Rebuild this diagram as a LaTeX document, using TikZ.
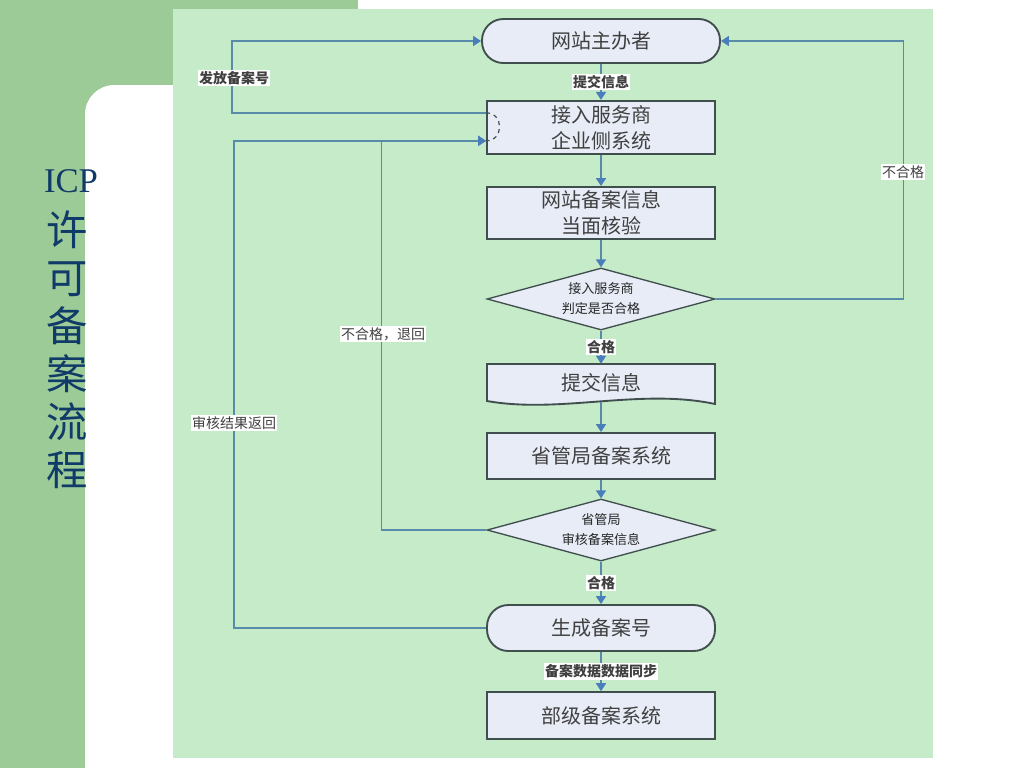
\documentclass[tikz,border=0pt]{standalone}
\usepackage{fontspec}
\setmainfont{Noto Sans CJK SC}
\newfontfamily\timesfont{Liberation Serif}
\usetikzlibrary{arrows.meta,shapes.geometric}
\definecolor{bandgreen}{RGB}{156,203,152}
\definecolor{panelgreen}{RGB}{198,235,201}
\definecolor{boxfill}{RGB}{231,236,246}
\definecolor{boxline}{RGB}{64,78,78}
\definecolor{flowline}{RGB}{88,138,170}
\definecolor{tipblue}{RGB}{74,126,187}
\definecolor{titleblue}{RGB}{16,58,104}

\begin{document}
\begin{tikzpicture}[x=0.75pt,y=-0.75pt,
	box/.style={draw=boxline,fill=boxfill,line width=1.4pt,minimum width=171pt,inner sep=0pt,align=center,text=black!75,font=\fontsize{15}{19.5}\selectfont},
	term/.style={box,rounded corners=16pt},
	decide/.style={diamond,aspect=3.7,draw=boxline,fill=boxfill,line width=1pt,minimum width=171pt,minimum height=46.5pt,inner sep=0pt,align=center,text=black!85,font=\fontsize{9.8}{15}\selectfont},
	flow/.style={draw=flowline,line width=1.2pt,-{Triangle[length=6pt,width=7.5pt,color=tipblue]}},
	tag/.style={fill=white,inner sep=1pt,text=black!75,font=\fontsize{10.5}{12}\selectfont},
	boldtag/.style={tag,font=\fontsize{10.5}{12}\selectfont\bfseries}]
	\useasboundingbox (0,0) rectangle (1024,768);

	% page background
	\fill[white] (0,0) rectangle (1024,768);
	\fill[bandgreen] (0,0) rectangle (358,768);
	\fill[white,rounded corners=22pt] (85,85) rectangle (358,800);
	\fill[panelgreen] (173,9) rectangle (933,758);

	% title
	\node[text=titleblue,font=\timesfont\fontsize{26}{28}\selectfont,inner sep=0pt] (icp) at (71,181) {ICP};
	\node[text=titleblue,font=\fontsize{31}{36}\selectfont,align=center,anchor=north,inner sep=0pt] (biaoti) at (67,211) {许\\可\\备\\案\\流\\程};

	% flow chart
	\node[term,minimum width=178.5pt,minimum height=33pt] (zhuban) at (601,41) {网站主办者};
	\node[box,minimum height=40pt] (jieru) at (601,127.5) {接入服务商\\企业侧系统};
	\node[box,minimum height=39pt] (hedui) at (601,213) {网站备案信息\\当面核验};
	\node[decide] (panding) at (601,299) {接入服务商\\判定是否合格};
	\filldraw[draw=boxline,fill=boxfill,line width=1.4pt] (487,364) -- (715,364) -- (715,404) .. controls (640,388) and (560,414) .. (487,401) -- cycle;
	\node[inner sep=0pt,minimum width=171pt,minimum height=28.5pt,text=black!75,font=\fontsize{15}{18}\selectfont] (tijiao) at (601,383) {提交信息};
	\node[box,minimum height=34.5pt] (shengguan) at (601,456) {省管局备案系统};
	\node[decide] (shenhe) at (601,530) {省管局\\审核备案信息};
	\node[term,minimum height=34.5pt] (shengcheng) at (601,628) {生成备案号};
	\node[box,minimum height=35pt] (buji) at (601,715.5) {部级备案系统};

	\draw[flow] (zhuban) -- node[boldtag]{提交信息} (jieru);
	\draw[flow] (jieru) -- (hedui);
	\draw[flow] (hedui) -- (panding);
	\draw[flow] (panding) -- node[boldtag]{合格} (tijiao.north);
	\draw[flow] (tijiao.south) -- (shengguan);
	\draw[flow] (shengguan) -- (shenhe);
	\draw[flow] (shenhe) -- node[boldtag]{合格} (shengcheng);
	\draw[flow] (shengcheng) -- node[boldtag]{备案数据数据同步} (buji);

	% return loops
	\draw[flow] (panding.east) -- ++(188,0) |- (zhuban.east);
	\draw[flow] ([yshift=11pt]jieru.west) -- ++(-254,0) |- (zhuban.west);
	\draw[flow] (shenhe.west) -- ++(-105,0) |- ([yshift=-10pt]jieru.west);
	\draw[flow] (shengcheng.west) -- ++(-252,0) |- ([yshift=-10pt]jieru.west);
	\draw[boxline,dashed,line width=0.9pt] ([yshift=11pt]jieru.west) .. controls +(18,0) and +(18,0) .. ([yshift=-10pt]jieru.west);

	\node[boldtag] (fafang) at (234,78) {发放备案号};
	\node[tag] (buhege) at (903,172) {不合格};
	\node[tag] (tuihui) at (383,334) {不合格，退回};
	\node[tag] (fanhui) at (234,423) {审核结果返回};
\end{tikzpicture}
\end{document}
